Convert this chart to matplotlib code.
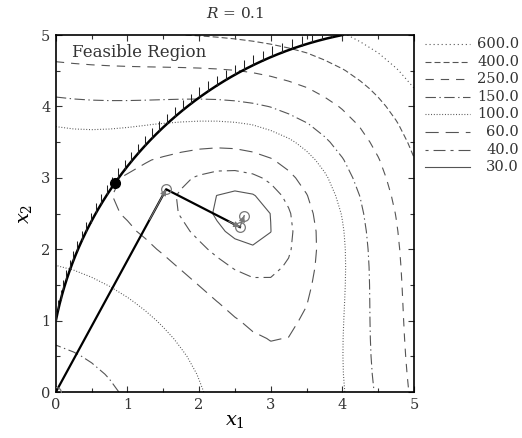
import numpy as np
import matplotlib
matplotlib.use("Agg")
import matplotlib.pyplot as plt
from matplotlib.lines import Line2D
from matplotlib.collections import LineCollection
from matplotlib.ticker import MultipleLocator

plt.rcParams["font.family"] = "DejaVu Serif"
plt.rcParams["mathtext.fontset"] = "dejavuserif"
plt.rcParams["lines.scale_dashes"] = False

# penalty parameter and contour levels of the penalized function
R = 0.1
levels = [600.0, 400.0, 250.0, 150.0, 100.0, 60.0, 40.0, 30.0]
level_styles = [
    (0, (0.8, 2.1)),            # 600 fine dots
    (0, (4.3, 2.2)),            # 400 short dashes
    (0, (6.0, 5.0)),            # 250 medium dashes
    (0, (7.5, 2.5, 1.0, 2.5)),  # 150 dash-dot
    (0, (0.7, 1.3)),            # 100 dense dots
    (0, (9.5, 5.0)),            # 60 long dashes
    (0, (2.2, 3.6, 8.6, 3.6)),  # 40 short-long
    "solid",                    # 30
]

# constraint: (x1 - 5)^2 + x2^2 >= 26
cons_cx, cons_cy, cons_r2 = 5.0, 0.0, 26.0

# search path of the unconstrained minimisation
path_x = [0.0, 1.54, 2.57, 2.63]
path_y = [0.0, 2.84, 2.31, 2.47]

# true constrained optimum
opt_x, opt_y = 0.829, 2.933


def objective(x1, x2):
    return (x1 ** 2 + x2 - 11) ** 2 + (x1 + x2 ** 2 - 7) ** 2


def constraint(x1, x2):
    return (x1 - cons_cx) ** 2 + (x2 - cons_cy) ** 2 - cons_r2


def penalized(x1, x2):
    g = constraint(x1, x2)
    return objective(x1, x2) + R * np.minimum(g, 0.0) ** 2


fig = plt.figure(figsize=(5.22, 4.38), dpi=100)
ax = fig.add_axes([0.107, 0.105, 0.686, 0.815])

gx = np.linspace(0, 5, 21)
X, Y = np.meshgrid(gx, gx)
P = penalized(X, Y)

cgray = "#555555"
for lev, ls in zip(levels, level_styles):
    cs = ax.contour(X, Y, P, levels=[lev], colors=cgray, linewidths=0.8)
    cs.set_linestyle(ls)

# constraint boundary with hatch marks on the feasible side
r = np.sqrt(cons_r2)
th0 = np.arctan2(1.0 - cons_cy, 0.0 - cons_cx)
th1 = np.arctan2(5.0 - cons_cy, 4.0 - cons_cx)
th = np.linspace(th0, th1, 300)
bx = cons_cx + r * np.cos(th)
by = cons_cy + r * np.sin(th)
ax.plot(bx, by, color="black", lw=1.8, zorder=5)

th_h = np.linspace(th0, th1, 42)
hx = cons_cx + r * np.cos(th_h)
hy = cons_cy + r * np.sin(th_h)
segs = [[(a, b), (a, b + 0.14)] for a, b in zip(hx, hy)]
ax.add_collection(LineCollection(segs, colors="#222222", linewidths=0.75, zorder=5))

# search path
ax.plot(path_x[:3], path_y[:3], color="black", lw=1.6, zorder=6)
ax.plot(path_x[2:], path_y[2:], color="#666666", lw=0.9, zorder=6)
for i in range(1, len(path_x)):
    x0, y0 = path_x[i - 1], path_y[i - 1]
    x1, y1 = path_x[i], path_y[i]
    ax.annotate("", xy=(x1, y1), xytext=(x0 + 0.85 * (x1 - x0), y0 + 0.85 * (y1 - y0)),
                arrowprops=dict(arrowstyle="-|>", color="#777777", lw=0.8,
                                mutation_scale=9, shrinkA=0, shrinkB=0),
                zorder=7)
ax.plot(path_x, path_y, "o", ms=7, mfc="none", mec="#777777", mew=0.9, zorder=7)

ax.plot([opt_x], [opt_y], "o", ms=7, color="black", zorder=8)

ax.text(0.22, 4.76, "Feasible Region", fontsize=12, va="center", ha="left",
        color="#333333")

ax.set_xlim(0, 5)
ax.set_ylim(0, 5)
ax.xaxis.set_major_locator(MultipleLocator(1))
ax.yaxis.set_major_locator(MultipleLocator(1))
ax.xaxis.set_minor_locator(MultipleLocator(0.5))
ax.yaxis.set_minor_locator(MultipleLocator(0.5))
ax.tick_params(which="both", direction="in", top=True, right=True,
               labelsize=10.5, colors="#333333", pad=4)
ax.tick_params(which="major", length=4.5, width=0.8)
ax.tick_params(which="minor", length=3, width=0.8)
for sp in ax.spines.values():
    sp.set_linewidth(1.2)

ax.set_xlabel(r"$x_1$", fontsize=14, labelpad=0)
ax.set_ylabel(r"$x_2$", fontsize=14, labelpad=5)
ax.set_title(r"$R$ = 0.1", fontsize=11, pad=12, color="#333333")

# legend of contour levels
W, H = 522.0, 438.0
row_y = [44, 61.6, 79.2, 96.8, 114.4, 132, 149.6, 167.2]
for lev, ls, yp in zip(levels, level_styles, row_y):
    yf = 1 - yp / H
    fig.add_artist(Line2D([425 / W, 470 / W], [yf, yf], color=cgray, lw=0.8,
                          linestyle=ls))
    fig.text(519 / W, yf, f"{lev:.1f}", ha="right", va="center", fontsize=10.5,
             color="#333333")

fig.savefig("out.png", dpi=100)
